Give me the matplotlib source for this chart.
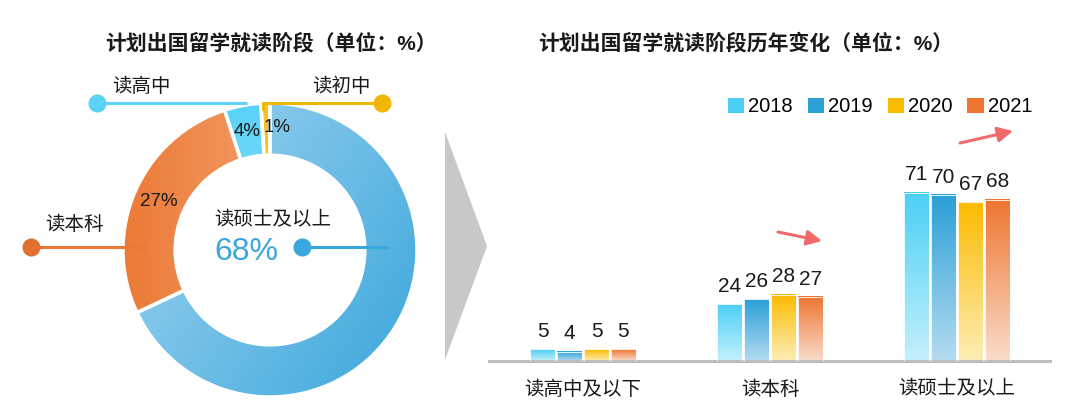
import numpy as np
import matplotlib
matplotlib.use('Agg')
import matplotlib.pyplot as plt
import matplotlib.colors as mcolors
from matplotlib.patches import Patch, Polygon

plt.rcParams['font.family'] = ['Liberation Sans', 'Noto Sans CJK SC', 'DejaVu Sans']

# pie data
pie_labels = ['读硕士及以上', '读本科', '读高中', '读初中']
pie_values = [68, 27, 4, 1]

# bar data
categories = ['读高中及以下', '读本科', '读硕士及以上']
years = ['2018', '2019', '2020', '2021']
v2018 = [5, 24, 71]
v2019 = [4, 26, 70]
v2020 = [5, 28, 67]
v2021 = [5, 27, 68]
series = [v2018, v2019, v2020, v2021]

bar_top = ['#4ccff5', '#2b9fd6', '#fbbb00', '#ee7530']
bar_bottom = ['#c4f0fd', '#b4dcf1', '#feeeb6', '#fadccb']


def lin_grad(c0, c1, shape=(200, 200), angle=0.0):
    a = np.array(mcolors.to_rgb(c0))
    b = np.array(mcolors.to_rgb(c1))
    ys, xs = np.mgrid[0:1:shape[0] * 1j, 0:1:shape[1] * 1j]
    t = xs * np.cos(angle) + ys * np.sin(angle)
    t = (t - t.min()) / (t.max() - t.min())
    return a * (1 - t[..., None]) + b * t[..., None]


fig = plt.figure(figsize=(10.8, 4.2), dpi=100)
W, H = 1080, 420

# ---------- donut ----------
cx, cy, R = 270, 250, 147
half = 160
axp = fig.add_axes([(cx - half) / W, (H - cy - half) / H, 2 * half / W, 2 * half / H])
wedges, _ = axp.pie(pie_values, startangle=90, counterclock=False, radius=1,
                    wedgeprops=dict(width=0.355, facecolor='none', edgecolor='white', linewidth=2.5, zorder=3))
lim = half / R
axp.set_aspect('equal')
axp.axis('off')

wedge_grads = [
    ('#a6d7f1', '#3aa6dc', -0.6),   # masters: light upper-left -> dark lower-right
    ('#ec7a36', '#f7bd96', 0.0),    # bachelor: dark left -> light right
    ('#55d1f7', '#c2f0fe', -1.5),   # high school
    ('#f5b800', '#f9cf4d', 0.0),    # middle school
]
for w, (c0, c1, ang) in zip(wedges, wedge_grads):
    img = lin_grad(c0, c1, angle=ang)
    im = axp.imshow(img, extent=(-1, 1, -1, 1), origin='lower', zorder=2, interpolation='bilinear')
    im.set_clip_path(w)
axp.set_xlim(-lim, lim)
axp.set_ylim(-lim, lim)

# ---------- bars ----------
axb = fig.add_axes([489 / W, 59 / H, 561 / W, 261 / H])
x = np.arange(len(categories))
step = 0.144
bw = 0.131
for i, vals in enumerate(series):
    rects = axb.bar(x + (i - 1.5) * step, vals, bw, facecolor='none', edgecolor='white', linewidth=0.6, zorder=3)
    for r, v in zip(rects, vals):
        img = lin_grad(bar_bottom[i], bar_top[i], shape=(100, 2), angle=np.pi / 2)
        axb.imshow(img, extent=(r.get_x(), r.get_x() + r.get_width(), 0, r.get_height()),
                   origin='lower', aspect='auto', zorder=2, interpolation='bilinear')
        axb.annotate(str(v), (r.get_x() + r.get_width() / 2, r.get_height()), xytext=(0, 6),
                     textcoords='offset points', ha='center', va='bottom', fontsize=15, color='#1a1a1a')
axb.set_xlim(-0.503, 2.497)
axb.set_ylim(0, 110)
axb.set_facecolor('none')
for s in ['top', 'right', 'left']:
    axb.spines[s].set_visible(False)
axb.spines['bottom'].set_color('#bdbdbd')
axb.spines['bottom'].set_linewidth(2.2)
axb.set_yticks([])
axb.set_xticks(x)
axb.set_xticklabels(categories, fontsize=14, color='#1a1a1a')
axb.tick_params(axis='x', length=0, pad=14)

handles = [Patch(facecolor=c, edgecolor='none') for c in bar_top]
fig.legend(handles, years, loc='center', bbox_to_anchor=(880 / W, 1 - 107 / H), ncol=4,
           frameon=False, fontsize=14.5, handlelength=0.8, handleheight=0.8,
           handletextpad=0.2, columnspacing=0.75)

# ---------- overlay: annotations ----------
ov = fig.add_axes([0, 0, 1, 1])
ov.set_xlim(0, W)
ov.set_ylim(H, 0)
ov.axis('off')
ov.set_zorder(5)

fig.text(105 / W, 1 - 43 / H, '计划出国留学就读阶段（单位：%）', fontsize=15, fontweight='bold',
         ha='left', va='center', color='#1a1a1a')
fig.text(538 / W, 1 - 43 / H, '计划出国留学就读阶段历年变化（单位：%）', fontsize=15, fontweight='bold',
         ha='left', va='center', color='#1a1a1a')

# chevron
ov.add_patch(Polygon([(445, 132), (487, 246), (445, 360)], closed=True, facecolor='#c8c8c8', edgecolor='none'))

# leader lines
ov.plot([97, 247], [103, 103], color='#5cd2f7', lw=2.2, solid_capstyle='butt')
ov.plot(97, 103, 'o', color='#5cd2f7', ms=12)
ov.text(141, 87, pie_labels[2], fontsize=14, ha='center', va='center', color='#1a1a1a')

ov.plot([263, 263, 382], [110, 103, 103], color='#f2b705', lw=2.2, solid_capstyle='butt')
ov.plot(382, 103, 'o', color='#f2b705', ms=12)
ov.text(341, 87, pie_labels[3], fontsize=14, ha='center', va='center', color='#1a1a1a')

ov.plot([31, 145], [247, 247], color='#e87a35', lw=2.2, solid_capstyle='butt')
ov.plot(31, 247, 'o', color='#e07030', ms=12)
ov.text(74, 225, pie_labels[1], fontsize=14, ha='center', va='center', color='#1a1a1a')

ov.plot([302, 388], [247, 247], color='#3aa8dc', lw=2.2, solid_capstyle='butt')
ov.plot(302, 247, 'o', color='#3aa8dc', ms=12)
ov.text(273, 220, pie_labels[0], fontsize=14, ha='center', va='center', color='#1a1a1a')
ov.text(246, 252, f'{pie_values[0]}%', fontsize=23, ha='center', va='center', color='#3aa8dc')

ov.text(159, 202, f'{pie_values[1]}%', fontsize=13.5, ha='center', va='center', color='#1a1a1a')
ov.text(247, 131, f'{pie_values[2]}%', fontsize=13.5, ha='center', va='center', color='#1a1a1a')
ov.text(277, 127, f'{pie_values[3]}%', fontsize=13.5, ha='center', va='center', color='#1a1a1a')

# trend arrows
arrow_kw = dict(arrowstyle='-|>,head_length=0.9,head_width=0.45', color='#f06a6a', lw=2.2, shrinkA=0, shrinkB=0)
ov.annotate('', xy=(822, 241), xytext=(778, 232), arrowprops=arrow_kw)
ov.annotate('', xy=(1013, 131), xytext=(960, 143), arrowprops=arrow_kw)

fig.savefig('out.png', dpi=100)
